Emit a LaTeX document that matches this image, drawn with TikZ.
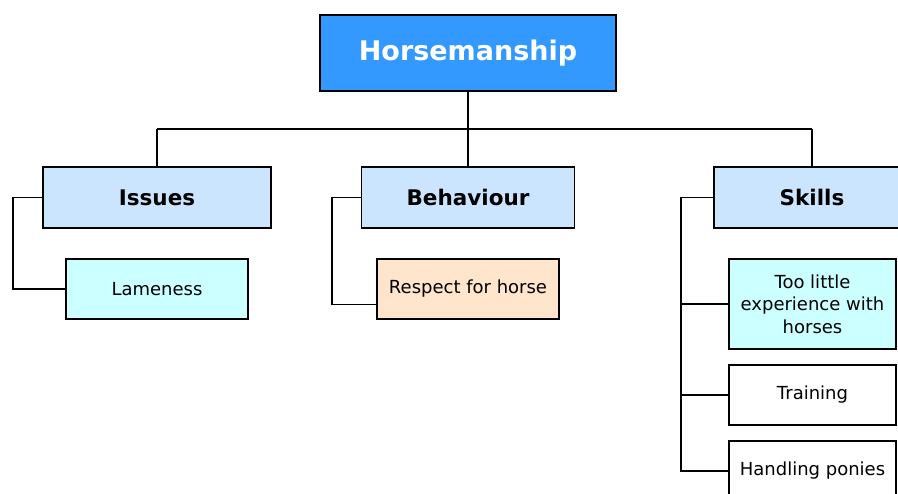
\documentclass[tikz,border=0pt]{standalone}
\usepackage{fontspec}
\setmainfont{DejaVu Sans}
\usetikzlibrary{calc}
\definecolor{rootblue}{HTML}{3399FF}
\definecolor{catblue}{HTML}{CCE5FF}
\definecolor{leafcyan}{HTML}{CCFFFF}
\definecolor{leafpeach}{HTML}{FFE5CC}
\begin{document}
\begin{tikzpicture}[x=1pt,y=-1pt,
  box/.style={draw=black,line width=1.1pt,inner sep=2pt,align=center},
  rootbox/.style={box,fill=rootblue,text=white,minimum width=296pt,minimum height=76pt,
    font=\fontsize{27}{31}\selectfont\bfseries},
  catbox/.style={box,fill=catblue,minimum height=61pt,
    font=\fontsize{21.5}{25}\selectfont\bfseries},
  leafbox/.style={box,minimum height=60pt,font=\fontsize{18}{22.5}\selectfont},
  link/.style={draw=black,line width=1.2pt}]
\useasboundingbox (0,0) rectangle (898,494);

% top node and categories
\node[rootbox] (root) at (468,53) {Horsemanship};
\node[catbox,minimum width=228pt] (issues) at (157,197.5) {Issues};
\node[catbox,minimum width=213pt] (behav) at (468,197.5) {Behaviour};
\node[catbox,minimum width=196pt] (skills) at (812,197.5) {Skills};

% leaves
\node[leafbox,fill=leafcyan,minimum width=182pt] (lame) at (157,289) {Lameness};
\node[leafbox,fill=leafpeach,minimum width=182pt] (resp) at (468,289) {Respect for horse};
\node[leafbox,fill=leafcyan,minimum width=167pt,minimum height=90pt] (exp) at (812.5,304)
  {Too little\\experience with\\horses};
\node[leafbox,fill=white,minimum width=167pt] (train) at (812.5,395) {Training};
\node[leafbox,fill=white,minimum width=167pt] (pony) at (812.5,471) {Handling ponies};

% bus between the top node and the categories
\coordinate (busL) at (157,129);
\coordinate (busR) at (812,129);
\draw[link] (root.south) -- (root.south |- busL);
\draw[link] (busL) -- (busR);
\draw[link] (busL) -- (issues.north);
\draw[link] (root.south |- busL) -- (behav.north);
\draw[link] (busR) -- (skills.north);

% category to leaf connectors
\coordinate (issuesRail) at (13,197.5);
\coordinate (behavRail) at (332,197.5);
\coordinate (skillsRail) at (681,197.5);
\coordinate (respIn) at ($(resp.north west)!0.75!(resp.south west)$);
\draw[link] (issues.west) -- (issuesRail) |- (lame.west);
\draw[link] (behav.west) -- (behavRail) |- (respIn);
\draw[link] (skills.west) -- (skillsRail) |- (pony.west);
\draw[link] (skillsRail |- exp.west) -- (exp.west);
\draw[link] (skillsRail |- train.west) -- (train.west);
\end{tikzpicture}
\end{document}
